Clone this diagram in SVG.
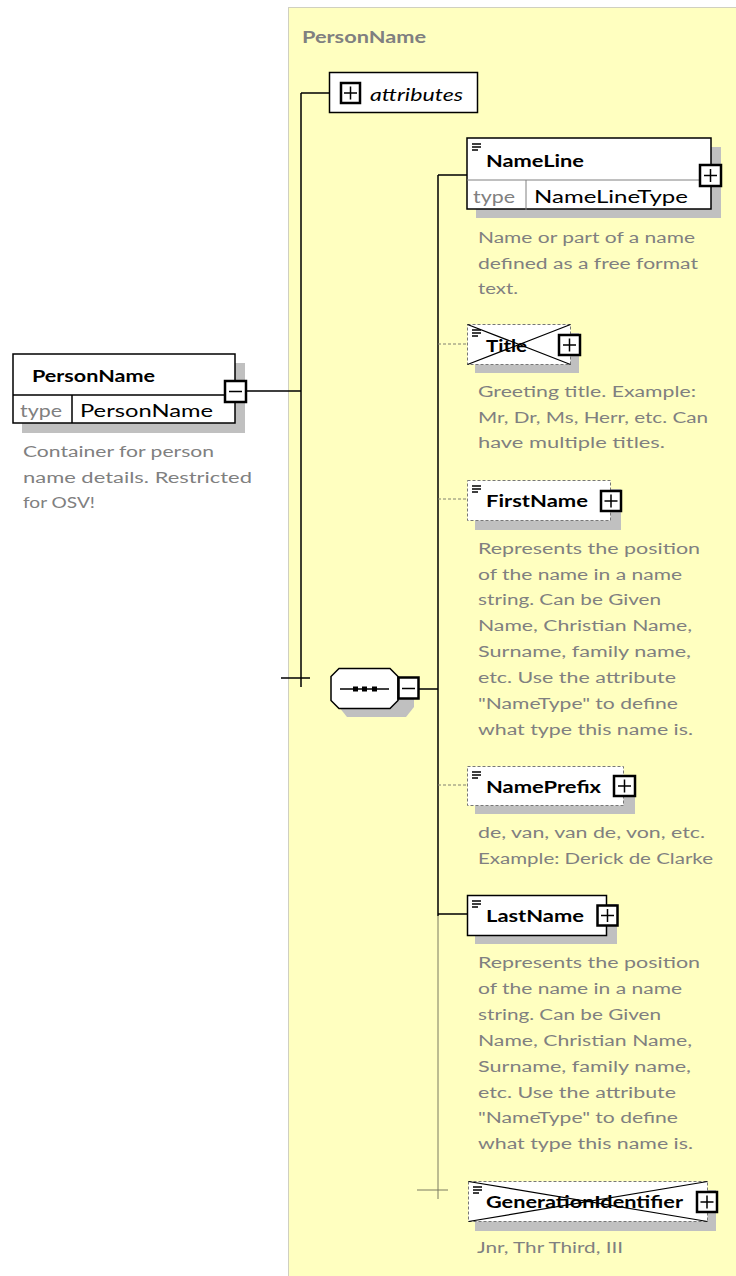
<svg xmlns="http://www.w3.org/2000/svg" width="736" height="1276" viewBox="0 0 736 1276">
<defs>
<style>
text{font-family:Lato,"Open Sans","Liberation Sans",sans-serif;}
.desc{font-size:15.5px;fill:#808080;}
.name{font-size:17px;font-weight:bold;fill:#000;}
.tp{font-size:16.5px;fill:#808080;}
.tv{font-size:16.5px;fill:#000;}
.box{fill:#fff;stroke:#000;stroke-width:1.5;}
.opt{fill:#fff;stroke:#777;stroke-width:1;stroke-dasharray:3 2;}
.shadow{fill:#c0c0c0;}
.icon{fill:#fff;stroke:#000;stroke-width:2.5;}
.sign{stroke:#000;stroke-width:1.5;fill:none;}
.conn{stroke:#000;stroke-width:1.5;fill:none;}
.dash{stroke:#808070;stroke-width:1;stroke-dasharray:3 2;fill:none;}
.thin{stroke:#7a7a60;stroke-width:1;fill:none;}
.menu{stroke:#000;stroke-width:1.5;}
</style>
</defs>
<rect width="736" height="1276" fill="#fff"/>
<g id="group-PersonName">
<rect x="288.5" y="7.5" width="460" height="1280" fill="#ffffc0" stroke="#a0a0a0" stroke-width="1" stroke-dasharray="1 1"/>
<text x="302" y="43" font-size="17" font-weight="bold" fill="#808080" textLength="124" lengthAdjust="spacingAndGlyphs">PersonName</text>
</g>
<g id="connectors">
<path class="conn" d="M247 391H301M301 93V687M281 678H310M301 93H329"/>
<path class="conn" d="M419 689H438M438 175V916M438 175H467M438 914H467"/>
<path class="dash" d="M438 344H467M438 499H467M438 785H467"/>
<path class="thin" d="M438 916V1199M417 1190H448"/>
</g>
<g id="node-PersonName">
<rect class="shadow" x="22" y="363" width="223" height="70"/>
<rect class="box" x="13" y="354" width="222" height="69"/>
<path class="conn" d="M13 395H235M72 395V423" stroke="#808080" stroke-width="1"/>
<text class="name" x="32" y="382" textLength="123" lengthAdjust="spacingAndGlyphs">PersonName</text>
<text class="tp" x="20" y="417" textLength="42" lengthAdjust="spacingAndGlyphs">type</text>
<text class="tv" x="80" y="417" textLength="133" lengthAdjust="spacingAndGlyphs">PersonName</text>
<rect class="icon" x="225" y="381" width="21" height="21"/>
<path class="sign" d="M229 391.5H242"/>
<text class="desc" x="23" y="457" textLength="191" lengthAdjust="spacingAndGlyphs">Container for person</text>
<text class="desc" x="23" y="483" textLength="229" lengthAdjust="spacingAndGlyphs">name details. Restricted</text>
<text class="desc" x="23" y="508" textLength="72" lengthAdjust="spacingAndGlyphs">for OSV!</text>
</g>
<g id="node-attributes">
<rect class="box" x="329.5" y="72.5" width="148" height="40"/>
<rect class="icon" x="341" y="83" width="19" height="20"/>
<path class="sign" d="M344 93H357M350.5 86.5V99.5"/>
<text x="370" y="101" font-size="17" font-style="italic" textLength="93" lengthAdjust="spacingAndGlyphs">attributes</text>
</g>
<g id="node-sequence">
<path class="shadow" d="M347 676H399L414 691V707L406 717H347L339 707V691Z"/>
<path d="M339 668.5H390L398 676.5V700.5L390 708.5H339L331 700.5V676.5Z" fill="#fff" stroke="#000" stroke-width="1.5"/>
<path class="sign" d="M340 689H389"/>
<rect x="353" y="686.5" width="5" height="5" fill="#000"/>
<rect x="362" y="686.5" width="5" height="5" fill="#000"/>
<rect x="372" y="686.5" width="5" height="5" fill="#000"/>
<rect class="icon" x="398.5" y="677.5" width="20" height="21"/>
<path class="sign" d="M402 688.5H415"/>
</g>
<g id="node-NameLine">
<rect class="shadow" x="476" y="147" width="245" height="71"/>
<rect class="box" x="467" y="138" width="244" height="71"/>
<path d="M467 180H711M526 180V210" stroke="#808080" stroke-width="1"/>
<path class="menu" d="M472 144H481M472 147H481M472 150H478"/>
<text class="name" x="486" y="167" textLength="98" lengthAdjust="spacingAndGlyphs">NameLine</text>
<text class="tp" x="473" y="203" textLength="42" lengthAdjust="spacingAndGlyphs">type</text>
<text class="tv" x="534" y="203" textLength="154" lengthAdjust="spacingAndGlyphs">NameLineType</text>
<rect class="icon" x="700" y="165" width="21" height="21"/>
<path class="sign" d="M704 175.5H717M710.5 169V182"/>
<text class="desc" x="478" y="243" textLength="217" lengthAdjust="spacingAndGlyphs">Name or part of a name</text>
<text class="desc" x="478" y="269" textLength="220" lengthAdjust="spacingAndGlyphs">defined as a free format</text>
<text class="desc" x="478" y="294" textLength="40" lengthAdjust="spacingAndGlyphs">text.</text>
</g>
<g id="node-Title">
<rect class="shadow" x="475" y="333" width="104" height="40"/>
<rect class="opt" x="467.5" y="324.5" width="103" height="40"/>
<path class="menu" d="M472 330H481M472 333H481M472 336H478"/>
<text class="name" x="486" y="352" textLength="41" lengthAdjust="spacingAndGlyphs">Title</text>
<path d="M467.5 324.5L570.5 364.5M467.5 364.5L570.5 324.5" stroke="#000" stroke-width="1.2"/>
<rect class="icon" x="559" y="335" width="21" height="20"/>
<path class="sign" d="M563 345H576M569.5 338.5V351.5"/>
<text class="desc" x="478" y="397" textLength="218" lengthAdjust="spacingAndGlyphs">Greeting title. Example:</text>
<text class="desc" x="478" y="423" textLength="230" lengthAdjust="spacingAndGlyphs">Mr, Dr, Ms, Herr, etc. Can</text>
<text class="desc" x="478" y="448" textLength="187" lengthAdjust="spacingAndGlyphs">have multiple titles.</text>
</g>
<g id="node-FirstName">
<rect class="shadow" x="475" y="489" width="146" height="41"/>
<rect class="opt" x="467.5" y="480.5" width="143" height="40"/>
<path class="menu" d="M472 486H481M472 489H481M472 492H478"/>
<text class="name" x="486" y="507" textLength="102" lengthAdjust="spacingAndGlyphs">FirstName</text>
<rect class="icon" x="601" y="491" width="20" height="20"/>
<path class="sign" d="M604.5 501H617.5M611 494.5V507.5"/>
<text class="desc" x="478" y="554" textLength="222" lengthAdjust="spacingAndGlyphs">Represents the position</text>
<text class="desc" x="478" y="580" textLength="204" lengthAdjust="spacingAndGlyphs">of the name in a name</text>
<text class="desc" x="478" y="605" textLength="183" lengthAdjust="spacingAndGlyphs">string. Can be Given</text>
<text class="desc" x="478" y="631" textLength="214" lengthAdjust="spacingAndGlyphs">Name, Christian Name,</text>
<text class="desc" x="478" y="657" textLength="213" lengthAdjust="spacingAndGlyphs">Surname, family name,</text>
<text class="desc" x="478" y="683" textLength="198" lengthAdjust="spacingAndGlyphs">etc. Use the attribute</text>
<text class="desc" x="478" y="709" textLength="200" lengthAdjust="spacingAndGlyphs">"NameType" to define</text>
<text class="desc" x="478" y="735" textLength="215" lengthAdjust="spacingAndGlyphs">what type this name is.</text>
</g>
<g id="node-NamePrefix">
<rect class="shadow" x="475" y="775" width="160" height="39"/>
<rect class="opt" x="467.5" y="766.5" width="156" height="39"/>
<path class="menu" d="M472 772H481M472 775H481M472 778H478"/>
<text class="name" x="486" y="793" textLength="115" lengthAdjust="spacingAndGlyphs">NamePrefix</text>
<rect class="icon" x="614" y="776" width="21" height="20"/>
<path class="sign" d="M618 786H631M624.5 779.5V792.5"/>
<text class="desc" x="478" y="838" textLength="227" lengthAdjust="spacingAndGlyphs">de, van, van de, von, etc.</text>
<text class="desc" x="478" y="864" textLength="235" lengthAdjust="spacingAndGlyphs">Example: Derick de Clarke</text>
</g>
<g id="node-LastName">
<rect class="shadow" x="475" y="904" width="142" height="40"/>
<rect class="box" x="467.5" y="895.5" width="139" height="40"/>
<path class="menu" d="M472 901H481M472 904H481M472 907H478"/>
<text class="name" x="486" y="922" textLength="98" lengthAdjust="spacingAndGlyphs">LastName</text>
<rect class="icon" x="597.5" y="905.5" width="20" height="20"/>
<path class="sign" d="M601 915.5H614M607.5 909V922"/>
<text class="desc" x="478" y="968" textLength="222" lengthAdjust="spacingAndGlyphs">Represents the position</text>
<text class="desc" x="478" y="994" textLength="204" lengthAdjust="spacingAndGlyphs">of the name in a name</text>
<text class="desc" x="478" y="1020" textLength="183" lengthAdjust="spacingAndGlyphs">string. Can be Given</text>
<text class="desc" x="478" y="1046" textLength="214" lengthAdjust="spacingAndGlyphs">Name, Christian Name,</text>
<text class="desc" x="478" y="1072" textLength="213" lengthAdjust="spacingAndGlyphs">Surname, family name,</text>
<text class="desc" x="478" y="1098" textLength="198" lengthAdjust="spacingAndGlyphs">etc. Use the attribute</text>
<text class="desc" x="478" y="1123" textLength="200" lengthAdjust="spacingAndGlyphs">"NameType" to define</text>
<text class="desc" x="478" y="1149" textLength="215" lengthAdjust="spacingAndGlyphs">what type this name is.</text>
</g>
<g id="node-GenerationIdentifier">
<rect class="shadow" x="475" y="1190" width="241" height="41"/>
<rect class="opt" x="468.5" y="1181.5" width="239" height="40"/>
<path class="menu" d="M473 1187H482M473 1190H482M473 1193H479"/>
<text class="name" x="486" y="1208" textLength="197" lengthAdjust="spacingAndGlyphs">GenerationIdentifier</text>
<path d="M468.5 1181.5L707.5 1221.5M468.5 1221.5L707.5 1181.5" stroke="#000" stroke-width="1.2"/>
<rect class="icon" x="697" y="1192" width="20" height="20"/>
<path class="sign" d="M700.5 1202H713.5M707 1195.5V1208.5"/>
<text class="desc" x="477" y="1253" textLength="146" lengthAdjust="spacingAndGlyphs">Jnr, Thr Third, III</text>
</g>
</svg>
